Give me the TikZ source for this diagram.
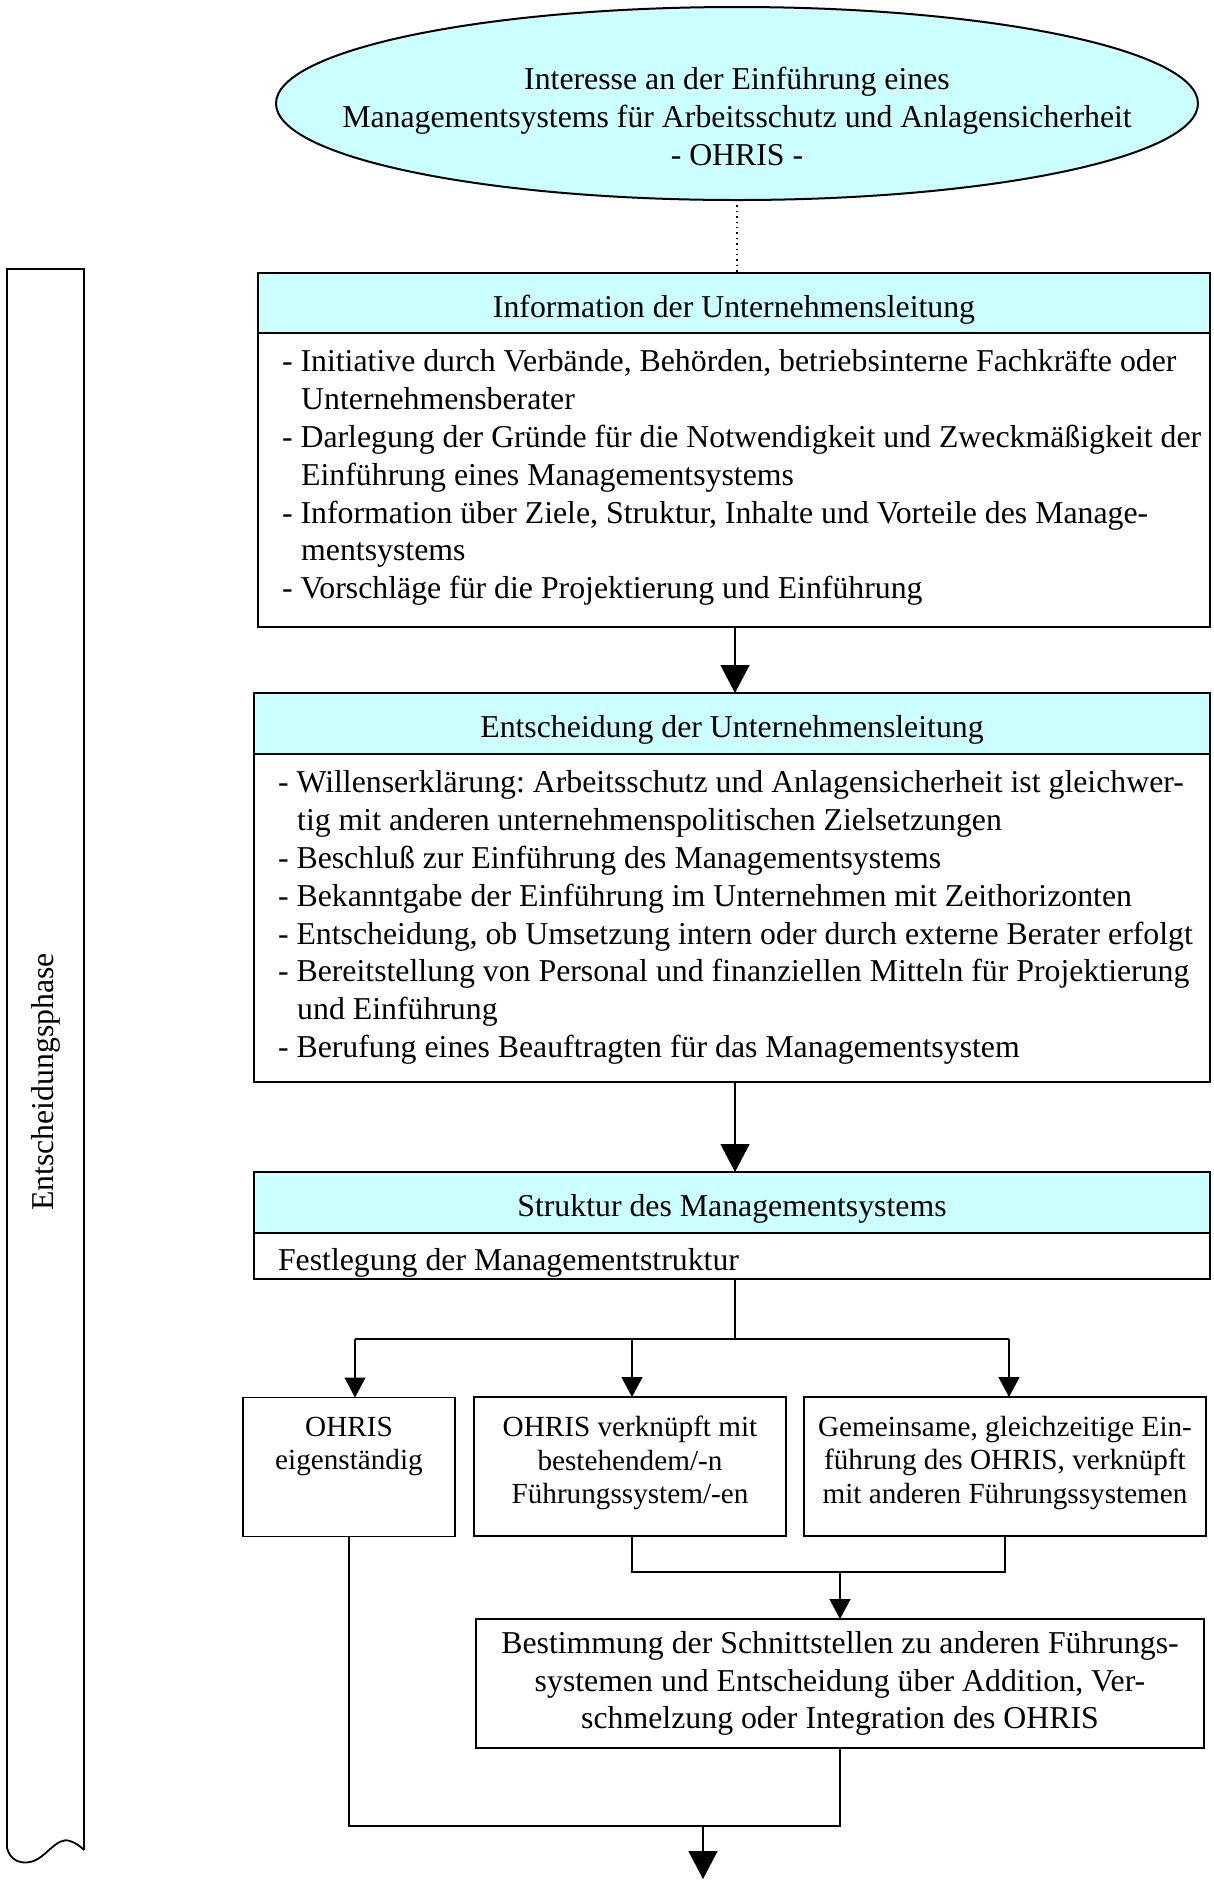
\documentclass[tikz,border=0pt]{standalone}
\usepackage{fontspec}
\setmainfont{Liberation Serif}
\usetikzlibrary{arrows.meta,shapes.geometric}
\definecolor{headcyan}{HTML}{CCFFFF}
\newcommand\contindent{\hspace*{9.6pt}}
\begin{document}
\frenchspacing
\begin{tikzpicture}[x=0.5pt,y=-0.5pt,
  every node/.style={font=\fontsize{15.9}{18.9}\selectfont, inner sep=0pt, outer sep=0pt},
  frame/.style={draw, rectangle, line width=1.2pt},
  headbox/.style={frame, fill=headcyan, text height=14pt, text depth=0pt},
  bodybox/.style={frame, fill=white},
  smallbox/.style={draw, rectangle, line width=0.9pt, minimum height=69.5pt},
  listtext/.style={align=left, anchor=west},
  boxtext/.style={align=center, anchor=north, font=\fontsize{14.6}{16.8}\selectfont},
  conn/.style={line width=0.7pt},
  bigarrow/.style={conn, -{Triangle[width=14.5pt,length=14pt]}},
  smallarrow/.style={conn, -{Triangle[width=10.5pt,length=10pt]}},
]
\useasboundingbox (0,0) rectangle (1214,1881);

% phase bracket on the left, wavy bottom edge
\draw[line width=0.9pt] (84,1850) -- (84,269) -- (7,269) -- (7,1848)
  .. controls (10,1860) and (20,1864) .. (30,1862)
  .. controls (46,1859) and (56,1836) .. (70,1841)
  .. controls (76,1843) and (80,1846) .. (84,1850);
\node[rotate=90] (phase) at (46,1082) {Entscheidungsphase};

% starting point
\node[ellipse, draw, line width=1pt, fill=headcyan,
      minimum width=461pt, minimum height=96.5pt] (start) at (737,103.5) {};
\node[align=center] (startT) at (737,116.5)
  {Interesse an der Einführung eines\\
   Managementsystems für Arbeitsschutz und Anlagensicherheit\\
   - OHRIS -};

% information of the management
\node[headbox, minimum width=476pt, minimum height=30pt] (infoH) at (734,303)
  {Information der Unternehmensleitung};
\node[bodybox, minimum width=476pt, minimum height=147pt] (infoB) at (734,480) {};
\node[listtext] (infoT) at (282,477.5)
  {- Initiative durch Verbände, Behörden, betriebsinterne Fachkräfte oder\\
   \contindent Unternehmensberater\\
   - Darlegung der Gründe für die Notwendigkeit und Zweckmäßigkeit der\\
   \contindent Einführung eines Managementsystems\\
   - Information über Ziele, Struktur, Inhalte und Vorteile des Manage-\\
   \contindent mentsystems\\
   - Vorschläge für die Projektierung und Einführung};

% decision of the management
\node[headbox, minimum width=478pt, minimum height=30.5pt] (decH) at (732,723.5)
  {Entscheidung der Unternehmensleitung};
\node[bodybox, minimum width=478pt, minimum height=164pt] (decB) at (732,918) {};
\node[listtext] (decT) at (278,917.5)
  {- Willenserklärung: Arbeitsschutz und Anlagensicherheit ist gleichwer-\\
   \contindent tig mit anderen unternehmenspolitischen Zielsetzungen\\
   - Beschluß zur Einführung des Managementsystems\\
   - Bekanntgabe der Einführung im Unternehmen mit Zeithorizonten\\
   - Entscheidung, ob Umsetzung intern oder durch externe Berater erfolgt\\
   - Bereitstellung von Personal und finanziellen Mitteln für Projektierung\\
   \contindent und Einführung\\
   - Berufung eines Beauftragten für das Managementsystem};

% structure of the management system
\node[headbox, minimum width=478pt, minimum height=30.5pt] (strH) at (732,1202.5)
  {Struktur des Managementsystems};
\node[bodybox, minimum width=478pt, minimum height=23pt] (strB) at (732,1256) {};
\node[listtext] (strT) at (278,1263) {Festlegung der Managementstruktur};

% three variants
\node[smallbox, minimum width=106pt] (varA) at (349,1467) {};
\node[boxtext] (varAT) at (349,1417) {OHRIS\\eigenständig};
\node[smallbox, minimum width=156pt] (varB) at (630,1466.5) {};
\node[boxtext] (varBT) at (630,1416) {OHRIS verknüpft mit\\bestehendem/-n\\Führungssystem/-en};
\node[smallbox, minimum width=201pt] (varC) at (1005,1466.5) {};
\node[boxtext] (varCT) at (1005,1416) {Gemeinsame, gleichzeitige Ein-\\führung des OHRIS, verknüpft\\mit anderen Führungssystemen};

% interfaces
\node[frame, minimum width=364pt, minimum height=64.5pt, align=center] (iface) at (840,1683.5)
  {Bestimmung der Schnittstellen zu anderen Führungs-\\
   systemen und Entscheidung über Addition, Ver-\\
   schmelzung oder Integration des OHRIS};

% connectors
\draw[conn, dotted] (start.south) -- (start.south |- infoH.north);
\draw[bigarrow] (735,627) -- (735,693);
\draw[bigarrow] (735,1082) -- (735,1172);

\coordinate (fork) at (735,1339);
\coordinate (forkA) at (355,1339);
\coordinate (forkB) at (632,1339);
\coordinate (forkC) at (1009,1339);
\draw[conn] (735,1279) -- (fork);
\draw[conn] (forkA) -- (forkC);
\draw[smallarrow] (forkA) -- (forkA |- varA.north);
\draw[smallarrow] (forkB) -- (forkB |- varB.north);
\draw[smallarrow] (forkC) -- (forkC |- varC.north);

\coordinate (joinBC) at (840,1572);
\draw[conn] (forkB |- varB.south) |- (joinBC) -| (varC.south);
\draw[smallarrow] (joinBC) -- (iface.north);

\coordinate (joinAll) at (703,1826);
\coordinate (exit) at (703,1879);
\draw[conn] (varA.south) |- (iface.south |- joinAll) -- (iface.south);
\draw[bigarrow] (joinAll) -- (exit);
\end{tikzpicture}
\end{document}
